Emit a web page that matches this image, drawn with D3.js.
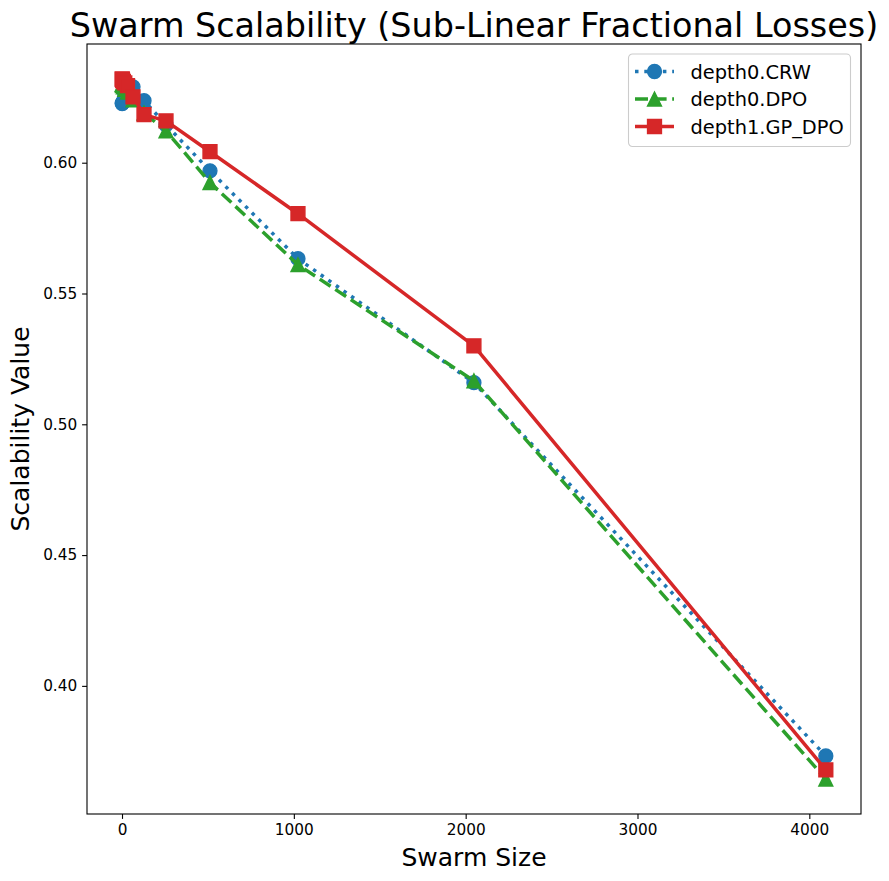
<!DOCTYPE html>
<html>
<head>
<meta charset="utf-8">
<script src="https://cdn.jsdelivr.net/npm/d3@7"></script>
<style>
  body { margin: 0; background: #fff; }
  text { font-family: "DejaVu Sans", sans-serif; fill: #000; }
</style>
</head>
<body>
<svg width="889" height="881"></svg>
<script>
// swarm sizes (powers of two)
var sizes = [1, 2, 4, 8, 16, 32, 64, 128, 256, 512, 1024, 2048, 4096];

// scalability values
var crw   = [0.6226, 0.6228, 0.6230, 0.6235, 0.6260, 0.6285, 0.6290, 0.6237, 0.6145, 0.5969, 0.5633, 0.5159, 0.3732];
var dpo   = [0.6300, 0.6298, 0.6295, 0.6290, 0.6280, 0.6270, 0.6240, 0.6190, 0.6122, 0.5924, 0.5610, 0.5166, 0.3644];
var gpdpo = [0.6320, 0.6318, 0.6315, 0.6310, 0.6305, 0.6295, 0.6252, 0.6184, 0.6160, 0.6042, 0.5805, 0.5300, 0.3679];

var seriesNames = ["depth0.CRW", "depth0.DPO", "depth1.GP_DPO"];
var xTicks = [0, 1000, 2000, 3000, 4000];
var yTicks = [0.40, 0.45, 0.50, 0.55, 0.60];

var series = [
  {name: seriesNames[0], values: crw,   color: "#1f77b4", dash: "3.5,5.8", marker: "circle"},
  {name: seriesNames[1], values: dpo,   color: "#2ca02c", dash: "13,5.6",  marker: "triangle"},
  {name: seriesNames[2], values: gpdpo, color: "#d62728", dash: null,      marker: "square"}
];

// plot area (top is reserved by window, so use other names)
var axL = 87, axR = 861, axT = 44, axB = 814;
var lw = 3.5, ms = 13.9;

var svg = d3.select("svg");

// matplotlib style 5% margins
function padded(ext) {
  var m = (ext[1] - ext[0]) * 0.05;
  return [ext[0] - m, ext[1] + m];
}
var allY = crw.concat(dpo, gpdpo);

var x = d3.scaleLinear().domain(padded(d3.extent(sizes))).range([axL, axR]);
var y = d3.scaleLinear().domain(padded(d3.extent(allY))).range([axB, axT]);

// markers
function markerPath(type, s) {
  var h = s / 2;
  if (type == "circle") return d3.symbol(d3.symbolCircle, Math.PI * h * h)();
  if (type == "square") return "M" + (-h) + "," + (-h) + "H" + h + "V" + h + "H" + (-h) + "Z";
  return "M0," + (-h) + "L" + h + "," + h + "L" + (-h) + "," + h + "Z";
}

var plot = svg.append("g");

series.forEach(function(s) {
  var line = d3.line()
    .x(function(d, i) { return x(sizes[i]); })
    .y(function(d) { return y(d); });

  plot.append("path")
    .attr("d", line(s.values))
    .attr("fill", "none")
    .attr("stroke", s.color)
    .attr("stroke-width", lw)
    .attr("stroke-linejoin", "round")
    .attr("stroke-dasharray", s.dash);

  plot.selectAll(null).data(s.values).enter().append("path")
    .attr("d", markerPath(s.marker, ms))
    .attr("transform", function(d, i) { return "translate(" + x(sizes[i]) + "," + y(d) + ")"; })
    .attr("fill", s.color)
    .attr("stroke", s.color)
    .attr("stroke-width", 1.4);
});

// axes
var xAxis = svg.append("g")
  .attr("transform", "translate(0," + axB + ")")
  .call(d3.axisBottom(x).tickValues(xTicks).tickFormat(d3.format("d")).tickSize(4.9).tickPadding(4.9));
var yAxis = svg.append("g")
  .attr("transform", "translate(" + axL + ",0)")
  .call(d3.axisLeft(y).tickValues(yTicks).tickFormat(d3.format(".2f")).tickSize(4.9).tickPadding(4.9));

[xAxis, yAxis].forEach(function(a) {
  a.select(".domain").remove();
  a.selectAll("line").attr("stroke", "#000").attr("stroke-width", 1.1);
  a.selectAll("text").style("font-family", "DejaVu Sans").style("font-size", "15.3px").attr("fill", "#000");
});

// frame
svg.append("rect")
  .attr("x", axL).attr("y", axT)
  .attr("width", axR - axL).attr("height", axB - axT)
  .attr("fill", "none").attr("stroke", "#000").attr("stroke-width", 1.1);

// title and labels
svg.append("text")
  .attr("x", (axL + axR) / 2).attr("y", 37)
  .attr("text-anchor", "middle")
  .style("font-size", "33.4px")
  .text("Swarm Scalability (Sub-Linear Fractional Losses)");

svg.append("text")
  .attr("x", (axL + axR) / 2).attr("y", 866)
  .attr("text-anchor", "middle")
  .style("font-size", "25px")
  .text("Swarm Size");

svg.append("text")
  .attr("transform", "translate(29," + (axT + axB) / 2 + ") rotate(-90)")
  .attr("text-anchor", "middle")
  .style("font-size", "25px")
  .text("Scalability Value");

// legend
var lg = svg.append("g").attr("transform", "translate(628.5,54)");
lg.append("rect")
  .attr("width", 222).attr("height", 92.5)
  .attr("rx", 4).attr("ry", 4)
  .attr("fill", "#fff").attr("fill-opacity", 0.8)
  .attr("stroke", "#cccccc").attr("stroke-width", 1.1);

series.forEach(function(s, i) {
  var row = lg.append("g").attr("transform", "translate(0," + (17.5 + i * 27.5) + ")");
  row.append("line")
    .attr("x1", 6.5).attr("x2", 45.5)
    .attr("stroke", s.color).attr("stroke-width", lw)
    .attr("stroke-dasharray", s.dash);
  row.append("path")
    .attr("d", markerPath(s.marker, ms))
    .attr("transform", "translate(26,0)")
    .attr("fill", s.color).attr("stroke", s.color).attr("stroke-width", 1.4);
  row.append("text")
    .attr("x", 62).attr("y", 7)
    .style("font-size", "19.4px")
    .text(s.name);
});
</script>
</body>
</html>
